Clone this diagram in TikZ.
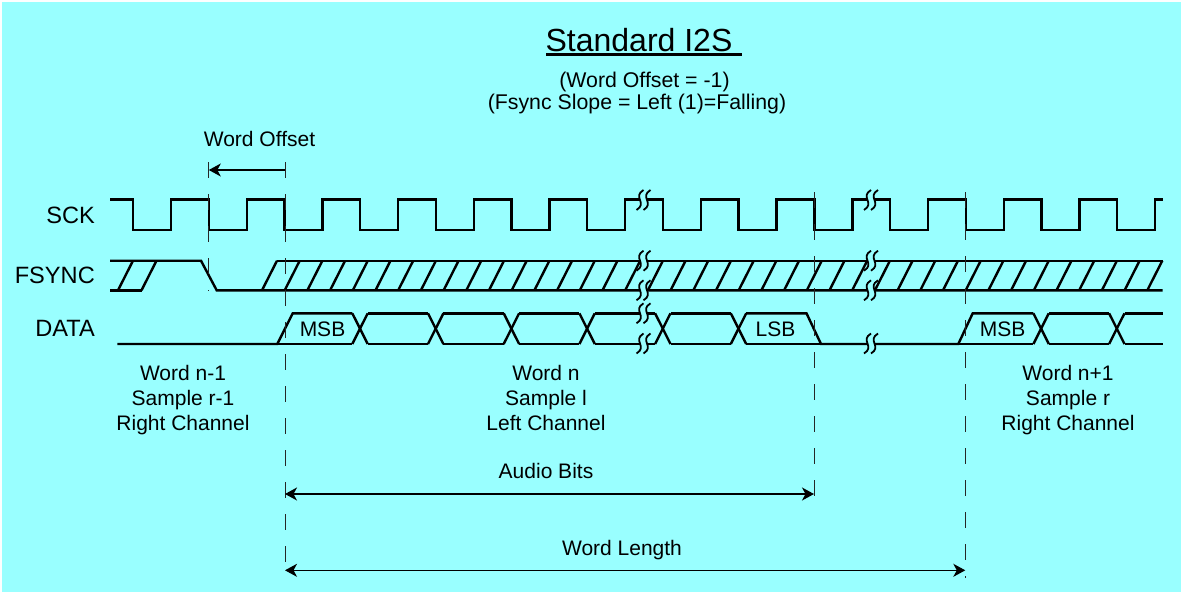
\documentclass[tikz,border=0pt]{standalone}
\usepackage{fontspec}
\setmainfont{Liberation Sans}
\usetikzlibrary{arrows.meta}
\definecolor{panel}{HTML}{99FFFF}
\tikzset{
  wave/.style={line width=2.4pt,line join=miter},
  guide/.style={line width=1pt,draw=black!85,dash pattern=on 16pt off 16pt},
  span/.style={line width=1.3pt,{Stealth[length=12pt,width=13pt,inset=3.5pt]}-{Stealth[length=12pt,width=13pt,inset=3.5pt]}},
  spanleft/.style={line width=1.3pt,{Stealth[length=12pt,width=13pt,inset=3.5pt]}-},
  txt/.style={inner sep=0pt,font=\fontsize{21}{24.7}\selectfont,align=center},
  sig/.style={inner sep=0pt,anchor=base east,font=\fontsize{23.6}{28}\selectfont},
  brk/.pic={
    \fill[panel] (3.5,-10) .. controls (-8,-3) and (8,3) .. (-3.5,10) -- (3.5,10) .. controls (15,3) and (-1,-3) .. (10.5,-10) -- cycle;
    \draw[line width=1.8pt] (3.5,-10) .. controls (-8,-3) and (8,3) .. (-3.5,10);
    \draw[line width=1.8pt] (10.5,-10) .. controls (-1,-3) and (15,3) .. (3.5,10);
  }
}
\begin{document}
\begin{tikzpicture}[x=1pt,y=-1pt]
\useasboundingbox (0,0) rectangle (1181,592);
\fill[panel] (2,2) rectangle (1181,592);
% title
\node[inner sep=0pt,anchor=base,font=\fontsize{32}{36}\selectfont] (title) at (639,51.5) {Standard I2S};
\draw[line width=3pt] (546,54.5) -- (742,54.5);
\node[inner sep=0pt,anchor=base,font=\fontsize{21.3}{25}\selectfont] (offsetnote) at (644.5,87) {(Word Offset = -1)};
\node[inner sep=0pt,anchor=base,font=\fontsize{21.3}{25}\selectfont] (slopenote) at (637,109) {(Fsync Slope = Left (1)=Falling)};
% signal names
\node[sig] (sck) at (95,223) {SCK};
\node[sig] (fsync) at (95,283.3) {FSYNC};
\node[sig] (data) at (95,336.7) {DATA};
% SCK
\draw[wave] (110,199.5) foreach \k in {0,...,13} { -- ({133+75.7*\k},199.5) -- ({133+75.7*\k},230) -- ({171+75.7*\k},230) -- ({171+75.7*\k},199.5) } -- (1162.7,199.5);
% FSYNC
\draw[wave] (110,260.7) -- (201,260.7) -- (216.7,290.3) -- (1162.7,290.3);
\draw[wave] (110,290.3) -- (141.5,290.3);
\draw[wave] (277,260.7) -- (1162.7,260.7);
\draw[wave] (118,290.3) -- (133,260.7);
\draw[wave] (141.5,290.3) -- (156.5,260.7);
\foreach \k in {0,...,39} \draw[wave] ({262+22.7*\k},290.3) -- ({277+22.7*\k},260.7);
% DATA
\draw[wave] (117.3,344) -- (277.3,344) -- (292.7,313.3) -- (352.3,313.3);
\draw[wave] (277.3,344) -- (352.3,344);
\foreach \cx in {360,435.7,511.4,587.1,662.8,738.5,1041.1,1116.8} {
  \draw[wave] (\cx-7.7,313.3) -- (\cx+7.7,344);
  \draw[wave] (\cx-7.7,344) -- (\cx+7.7,313.3);
}
\foreach \cx in {360,435.7,511.4,587.1,662.8,1041.1} {
  \draw[wave] (\cx+7.7,313.3) -- (\cx+68,313.3);
  \draw[wave] (\cx+7.7,344) -- (\cx+68,344);
}
\draw[wave] (746.2,313.3) -- (806.5,313.3) -- (821,344) -- (958.3,344) -- (972.7,313.3) -- (1033.4,313.3);
\draw[wave] (746.2,344) -- (958.3,344) -- (1033.4,344);
\draw[wave] (1124.5,313.3) -- (1162.7,313.3);
\draw[wave] (1124.5,344) -- (1162.7,344);
% breaks
\foreach \px/\py in {640/200,640/260.7,640/290.3,640/313.3,640/343.5,867.5/200,867.5/260.7,867.5/290.3,867.5/343.5}
  \pic at (\px,\py) {brk};
% guides
\draw[guide] (208.8,162) -- (208.8,291);
\draw[guide] (285,162) -- (285,562);
\draw[guide] (814,192) -- (814,497);
\draw[guide] (965.3,192) -- (965.3,578);
% spans
\coordinate (offsetL) at (208.8,170);
\coordinate (offsetR) at (285,170);
\coordinate (bitsL) at (285,494);
\coordinate (bitsR) at (814,494);
\coordinate (lengthL) at (285,570.3);
\coordinate (lengthR) at (965.3,570.3);
\draw[spanleft] (offsetL) -- (offsetR);
\draw[span] (bitsL) -- (bitsR);
\draw[span] (lengthL) -- (lengthR);
% texts
\node[txt,anchor=base] (offsetlbl) at (259.5,146.7) {Word Offset};
\node[txt,anchor=base] (msbA) at (322.5,336) {MSB};
\node[txt,anchor=base] (lsb) at (775.5,336) {LSB};
\node[txt,anchor=base] (msbB) at (1002.5,336) {MSB};
\node[txt] (wordprev) at (183,400) {Word n-1\\Sample r-1\\Right Channel};
\node[txt] (wordcur) at (546,398) {Word n\\Sample l\\Left Channel};
\node[txt] (wordnext) at (1068,400) {Word n+1\\Sample r\\Right Channel};
\node[txt,anchor=base] (bitslbl) at (546,478) {Audio Bits};
\node[txt,anchor=base] (lengthlbl) at (622,555) {Word Length};
\end{tikzpicture}
\end{document}
